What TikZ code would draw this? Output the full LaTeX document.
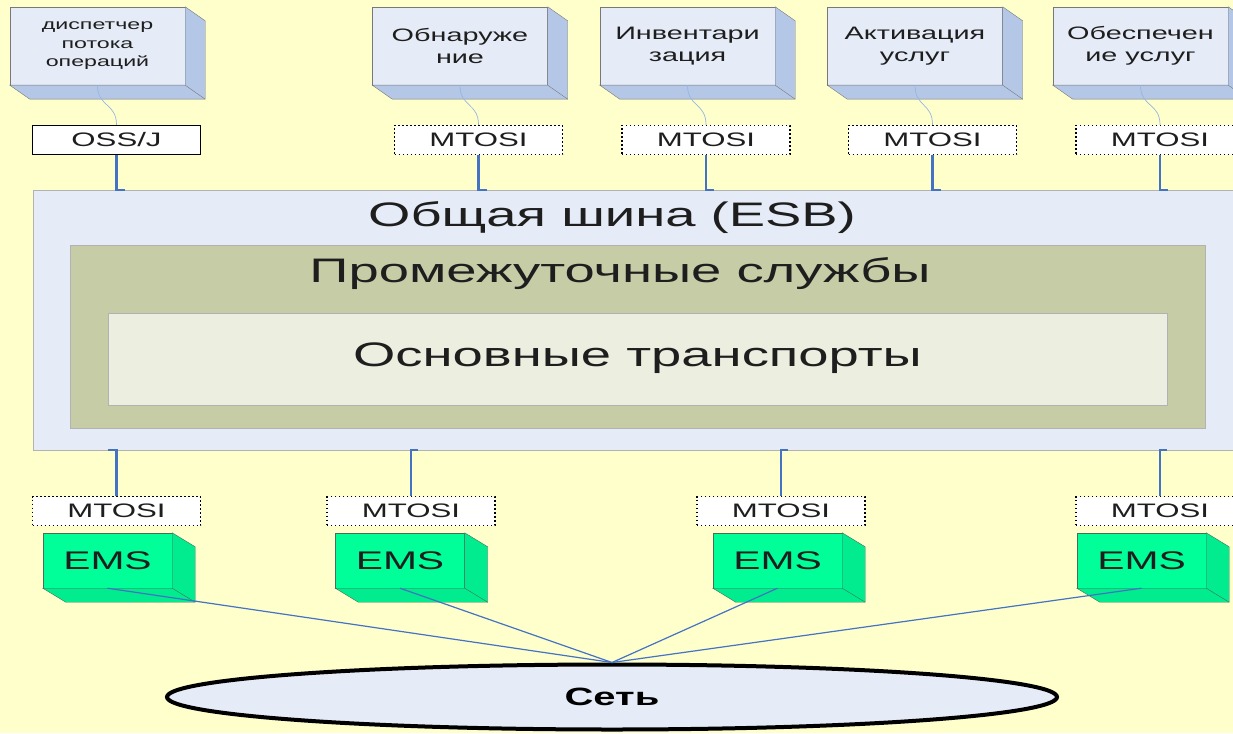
\documentclass[tikz,border=0pt]{standalone}
\usepackage{fontspec}
\setmainfont{Liberation Sans}[FakeStretch=1.6]
\usepackage{tikz}
\usetikzlibrary{shapes.geometric}
\usepackage{xcolor}

\definecolor{bgyellow}{RGB}{255,255,204}
\definecolor{appface}{RGB}{230,236,247}
\definecolor{appside}{RGB}{180,199,231}
\definecolor{boxedge}{RGB}{120,120,120}
\definecolor{esbedge}{RGB}{178,178,178}
\definecolor{midolive}{RGB}{198,204,166}
\definecolor{innerface}{RGB}{236,238,224}
\definecolor{emsface}{RGB}{0,255,153}
\definecolor{emsside}{RGB}{0,236,142}
\definecolor{emsedge}{RGB}{70,110,90}
\definecolor{busblue}{RGB}{68,114,196}
\definecolor{linkblue}{RGB}{150,182,226}
\definecolor{textgray}{RGB}{30,30,30}

\begin{document}
\begin{tikzpicture}[
    x=1pt, y=-1pt,
    every node/.style={text=textgray},
    appbox/.style={rectangle, draw=boxedge, fill=appface, minimum width=175pt, minimum height=78pt, inner sep=0pt, align=center, font=\fontsize{18}{22}\selectfont},
    emsbox/.style={rectangle, draw=emsedge, fill=emsface, minimum width=129pt, minimum height=55pt, inner sep=0pt, font=\fontsize{25.5}{28}\selectfont},
    ifbox/.style={rectangle, draw, line width=1.4pt, dash pattern=on 1.4pt off 2.6pt, fill=white, minimum width=168pt, minimum height=29pt, inner sep=0pt, font=\fontsize{19.5}{22}\selectfont},
    ossbox/.style={ifbox, solid},
    layer/.style={rectangle, draw=esbedge, inner sep=0pt},
    title/.style={font=\fontsize{34}{38}\selectfont},
    bus/.style={line width=2.2pt, busblue},
    link/.style={line width=0.7pt, linkblue},
    netlink/.style={line width=1.2pt, busblue},
]

\useasboundingbox (0,0) rectangle (1233,733);
\clip (0,0) rectangle (1233,733);
\fill[bgyellow] (0,0) rectangle (1233,733);

% Applications on top
\node[appbox, font=\fontsize{14.5}{18.5}\selectfont] (disp) at (97.5,46) {диспетчер\\потока\\операций};
\node[appbox] (disc) at (460,46)   {Обнаруже\\ние};
\node[appbox] (inv)  at (687.5,46) {Инвентари\\зация};
\node[appbox] (act)  at (915,46)   {Активация\\услуг};
\node[appbox] (prov) at (1140.5,46) {Обеспечен\\ие услуг};

% 3D sides of the application boxes
\foreach \n in {disp,disc,inv,act,prov} {
  \filldraw[draw=boxedge, fill=appside] (\n.north east) -- ++(20,14) -- ([shift={(20,14)}]\n.south east) -- ([shift={(20,14)}]\n.south west) -- (\n.south west) -- (\n.south east) -- cycle;
  \draw[boxedge] (\n.south east) -- ++(20,14);
}

% Interfaces on top
\node[ossbox] (oss) at (116.5,140) {OSS/J};
\node[ifbox]  (mt1) at (478.5,140) {MTOSI};
\node[ifbox]  (mt2) at (706,140)   {MTOSI};
\node[ifbox]  (mt3) at (932.5,140) {MTOSI};
\node[ifbox]  (mt4) at (1160,140)  {MTOSI};

% Bus layers
\node[layer, fill=appface, minimum width=1206pt, minimum height=260pt] (esb) at (636,320) {};
\node[layer, fill=midolive, minimum width=1135pt, minimum height=183pt] (mid) at (637.5,336.5) {};
\node[layer, fill=innerface, minimum width=1059pt, minimum height=92pt] (core) at (637.5,359) {};
\node[title] (esbtitle)  at (612,218)   {Общая шина (ESB)};
\node[title] (midtitle)  at (620,274)   {Промежуточные службы};
\node[title] (coretitle) at (637.5,358) {Основные транспорты};

% Links: applications -> interfaces
\draw[link] (disp.south) .. controls +(0,22) and +(0,-22) .. (oss.north);
\draw[link] (disc.south) .. controls +(0,22) and +(0,-22) .. (mt1.north);
\draw[link] (inv.south)  .. controls +(0,22) and +(0,-22) .. (mt2.north);
\draw[link] (act.south)  .. controls +(0,22) and +(0,-22) .. (mt3.north);
\draw[link] (prov.south) .. controls +(0,22) and +(0,-22) .. (mt4.north);

% Interfaces -> bus
\draw[bus] (oss.south) -- (oss.south |- esb.north) -- ++(8,0);
\draw[bus] (mt1.south) -- (mt1.south |- esb.north) -- ++(8,0);
\draw[bus] (mt2.south) -- (mt2.south |- esb.north) -- ++(8,0);
\draw[bus] (mt3.south) -- (mt3.south |- esb.north) -- ++(8,0);
\draw[bus] (mt4.south) -- (mt4.south |- esb.north) -- ++(8,0);

% Interfaces below
\node[ifbox] (mb1) at (116.5,511) {MTOSI};
\node[ifbox] (mb2) at (411,511)   {MTOSI};
\node[ifbox] (mb3) at (781,511)   {MTOSI};
\node[ifbox] (mb4) at (1160,511)  {MTOSI};

\draw[bus] (mb1.north) -- (mb1.north |- esb.south) -- ++(-9,0);
\draw[bus] (mb2.north) -- (mb2.north |- esb.south) -- ++(7,0);
\draw[bus] (mb3.north) -- (mb3.north |- esb.south) -- ++(7,0);
\draw[bus] (mb4.north) -- (mb4.north |- esb.south) -- ++(7,0);

% Element management systems
\node[emsbox] (ems1) at (107.5,560.5)  {EMS};
\node[emsbox] (ems2) at (400,560.5)    {EMS};
\node[emsbox] (ems3) at (777.5,560.5)  {EMS};
\node[emsbox] (ems4) at (1141.5,560.5) {EMS};

\foreach \n in {ems1,ems2,ems3,ems4} {
  \filldraw[draw=emsedge, fill=emsside] (\n.north east) -- ++(23,14) -- ([shift={(23,14)}]\n.south east) -- ([shift={(23,14)}]\n.south west) -- (\n.south west) -- (\n.south east) -- cycle;
  \draw[emsedge] (\n.south east) -- ++(23,14);
}

% Network
\node[ellipse, draw=black, line width=4pt, fill=appface, minimum width=890pt, minimum height=65pt, inner sep=0pt, text=black, font=\bfseries\fontsize{25}{28}\selectfont] (net) at (612,697) {Сеть};

\draw[netlink] (ems1.south) -- (net.north);
\draw[netlink] (ems2.south) -- (net.north);
\draw[netlink] (ems3.south) -- (net.north);
\draw[netlink] (ems4.south) -- (net.north);

\end{tikzpicture}
\end{document}
